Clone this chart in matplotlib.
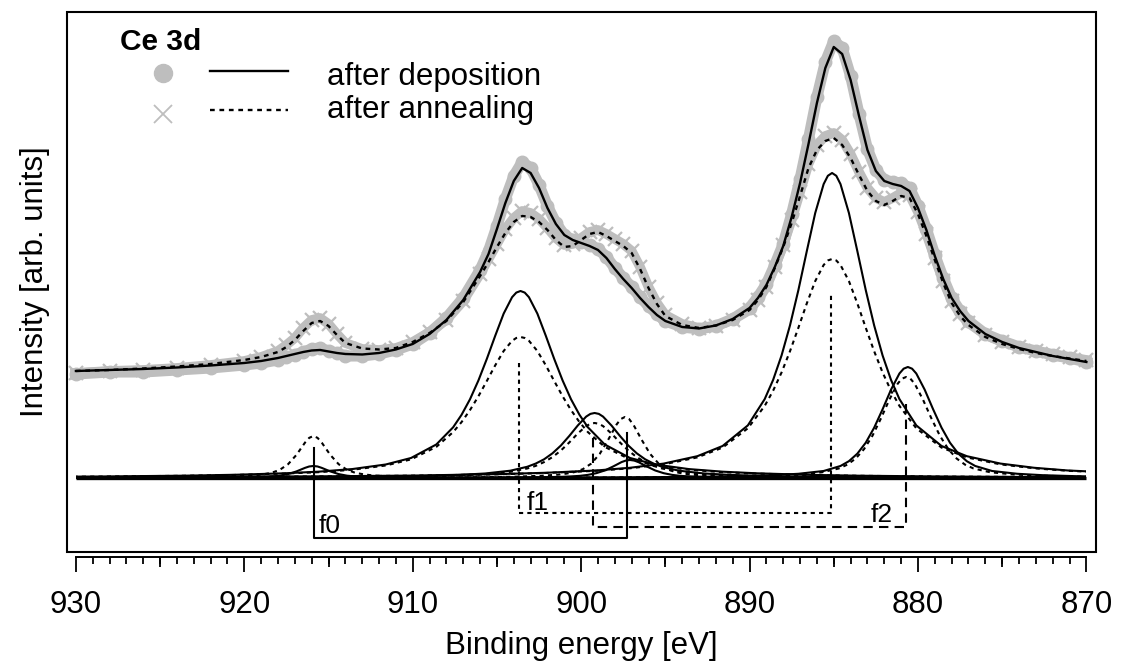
import numpy as np
import matplotlib
matplotlib.use("Agg")
import matplotlib.pyplot as plt
from matplotlib.patches import Rectangle
from matplotlib.ticker import MultipleLocator

plt.rcParams["font.family"] = ["Liberation Sans", "DejaVu Sans"]
plt.rcParams["font.size"] = 22

# ---- measured spectra and envelopes (binding energy in eV, intensity arb.) ----
energy = [930, 928, 926, 924, 922, 920, 919, 918, 917.5, 917,
          916.5, 916, 915.5, 915, 914.5, 914, 913, 912, 911, 910,
          909, 908, 907, 906, 905.5, 905, 904.5, 904, 903.5, 903,
          902.5, 902, 901.5, 901, 900.5, 900, 899.5, 899, 898.5, 898,
          897.5, 897, 896.5, 896, 895.5, 895, 894, 893, 892, 891,
          890, 889.5, 889, 888.5, 888, 887.5, 887, 886.5, 886, 885.5,
          885, 884.5, 884, 883.5, 883, 882.5, 882, 881.5, 881, 880.5,
          880, 879.5, 879, 878.5, 878, 877.5, 877, 876, 875, 874,
          873, 872, 871, 870]

dep_data = [104, 106, 106, 108, 110, 113, 115, 118, 121, 123,
            126, 129, 130, 127, 125, 122, 122, 124, 128, 134,
            145, 160, 180, 208, 227, 252, 279, 302, 316, 310,
            293, 272, 255, 243, 238, 236, 233, 229, 221, 210,
            200, 191, 181, 172, 164, 157, 151, 149, 152, 159,
            170, 181, 194, 213, 234, 264, 299, 339, 381, 416,
            437, 430, 402, 364, 329, 308, 298, 296, 295, 290,
            272, 249, 223, 200, 180, 167, 157, 144, 137, 131,
            127, 123, 120, 116]

ann_data = [105, 107, 108, 110, 113, 117, 121, 127, 133, 140,
            150, 158, 160, 154, 144, 135, 129, 128, 130, 136,
            146, 158, 177, 204, 219, 234, 249, 260, 267, 265,
            259, 250, 240, 233, 234, 240, 246, 248, 244, 239,
            234, 227, 211, 191, 175, 163, 154, 150, 152, 158,
            168, 178, 191, 211, 233, 258, 286, 314, 333, 342,
            345, 338, 324, 306, 290, 280, 276, 280, 285, 283,
            266, 244, 220, 197, 177, 164, 155, 143, 136, 131,
            127, 124, 121, 118]

dep_fit = [107, 108, 109, 110.5, 112.5, 115, 117, 120, 122, 124,
           126, 127.5, 128, 126.5, 125, 124, 123.5, 125, 128.5, 134,
           144, 158, 178, 206, 224, 249, 275, 297, 310, 305,
           290, 270, 254, 243, 238, 235, 232, 228, 220, 209,
           199, 190, 180, 171, 163, 157, 151, 149.5, 152.5, 159,
           170, 180, 193, 211, 232, 261, 295, 334, 375, 410,
           431, 424, 398, 362, 328, 307, 297, 294, 292, 287,
           270, 248, 222, 199, 180, 167, 157, 144, 136, 130,
           126, 122, 119, 116]

ann_fit = [107, 108, 109.5, 111.5, 114, 118, 121, 126, 131, 138,
           147, 155, 157, 152, 143, 135, 129.5, 128.5, 130, 136,
           145, 157, 176, 202, 216, 231, 245, 256, 262, 261,
           256, 248, 238, 231, 232, 238, 244, 246, 242, 237,
           232, 225, 209, 190, 174, 162, 153, 150, 152.5, 158,
           168, 178, 191, 210, 231, 255, 282, 310, 328, 337,
           340, 333, 320, 303, 287, 277, 273, 277, 282, 280,
           264, 242, 218, 195, 175, 162, 153, 141, 134, 129,
           125, 122, 119.5, 117]

# ---- fit components: centre (eV) + profile sampled at offsets from centre ----
offsets = [-45, -30, -25, -20, -17, -14, -12, -10, -8, -6.5, -5, -4, -3.5,
           -3, -2.5, -2, -1.5, -1, -0.5, -0.25, 0, 0.25, 0.5, 1, 1.5, 2,
           2.5, 3, 3.5, 4, 5, 6.5, 8, 10, 12, 14, 17, 20, 25, 30, 45]

dep_centres = [915.9, 903.6, 899.2, 897.1, 885.1, 880.6]
dep_peaks = [
    [0, 0, 0, 0, 0.03, 0.05, 0.07, 0.1, 0.16, 0.23, 0.4, 0.6, 0.75, 1.0, 1.5, 2.3, 3.9, 6.6, 10.1, 11.5, 12,
     11.5, 10.1, 6.6, 3.9, 2.3, 1.5, 1.0, 0.75, 0.6, 0.4, 0.23, 0.16, 0.1, 0.07, 0.05, 0.03, 0, 0, 0, 0],
    [0.47, 1.05, 1.5, 2.3, 3.2, 4.7, 6.3, 8.9, 13.5, 20.0, 33.5, 50.7, 63.2, 78.7, 97.5, 119.1, 142.3, 164.4, 180.8, 185.4, 187,
     185.4, 180.8, 164.4, 142.3, 119.1, 97.5, 78.7, 63.2, 50.7, 33.5, 20.0, 13.5, 8.9, 6.3, 4.7, 3.2, 2.3, 1.5, 1.05, 0.47],
    [0.1, 0.23, 0.33, 0.5, 0.71, 1.0, 1.4, 2.0, 3.1, 4.5, 7.3, 11.2, 14.4, 18.7, 24.7, 32.5, 42.1, 52.5, 61.4, 64.1, 65,
     64.1, 61.4, 52.5, 42.1, 32.5, 24.7, 18.7, 14.4, 11.2, 7.3, 4.5, 3.1, 2.0, 1.4, 1.0, 0.71, 0.5, 0.33, 0.23, 0.1],
    [0, 0, 0.03, 0.05, 0.08, 0.1, 0.15, 0.2, 0.32, 0.48, 0.8, 1.2, 1.6, 2.1, 3.1, 4.8, 7.5, 11.5, 15.9, 17.4, 18,
     17.4, 15.9, 11.5, 7.5, 4.8, 3.1, 2.1, 1.6, 1.2, 0.8, 0.48, 0.32, 0.2, 0.15, 0.1, 0.08, 0.05, 0.03, 0, 0],
    [0.75, 1.7, 2.4, 3.8, 5.2, 7.5, 10.2, 14.4, 21.8, 32.0, 52.6, 78.9, 98.1, 122.5, 152.5, 187.9, 226.9, 265.0, 293.9, 302.2, 305,
     302.2, 293.9, 265.0, 226.9, 187.9, 152.5, 122.5, 98.1, 78.9, 52.6, 32.0, 21.8, 14.4, 10.2, 7.5, 5.2, 3.8, 2.4, 1.7, 0.75],
    [0.09, 0.21, 0.3, 0.47, 0.65, 0.95, 1.3, 1.8, 2.8, 4.2, 7.0, 12.0, 16.8, 24.3, 35.3, 50.3, 68.7, 88.3, 104.5, 109.3, 111,
     109.3, 104.5, 88.3, 68.7, 50.3, 35.3, 24.3, 16.8, 12.0, 7.0, 4.2, 2.8, 1.8, 1.3, 0.95, 0.65, 0.47, 0.3, 0.21, 0.09],
]

ann_centres = [915.9, 903.6, 899.2, 897.4, 885.1, 880.7]
ann_peaks = [
    [0.02, 0.04, 0.06, 0.09, 0.12, 0.18, 0.24, 0.35, 0.55, 0.82, 1.4, 2.1, 2.6, 3.6, 5.1, 8.1, 13.8, 23.2, 35.3, 40.1, 42,
     40.1, 35.3, 23.2, 13.8, 8.1, 5.1, 3.6, 2.6, 2.1, 1.4, 0.82, 0.55, 0.35, 0.24, 0.18, 0.12, 0.09, 0.06, 0.04, 0.02],
    [0.44, 0.98, 1.4, 2.2, 3.0, 4.4, 5.8, 8.2, 12.5, 18.6, 31.1, 45.9, 55.9, 67.9, 81.7, 97.0, 112.7, 127.0, 137.2, 140.0, 141,
     140.0, 137.2, 127.0, 112.7, 97.0, 81.7, 67.9, 55.9, 45.9, 31.1, 18.6, 12.5, 8.2, 5.8, 4.4, 3.0, 2.2, 1.4, 0.98, 0.44],
    [0.09, 0.19, 0.28, 0.43, 0.6, 0.88, 1.2, 1.7, 2.6, 3.8, 6.2, 9.5, 12.1, 15.9, 20.9, 27.5, 35.6, 44.5, 51.9, 54.2, 55,
     54.2, 51.9, 44.5, 35.6, 27.5, 20.9, 15.9, 12.1, 9.5, 6.2, 3.8, 2.6, 1.7, 1.2, 0.88, 0.6, 0.43, 0.28, 0.19, 0.09],
    [0.03, 0.06, 0.09, 0.14, 0.2, 0.3, 0.39, 0.6, 0.87, 1.3, 2.2, 3.3, 4.3, 5.9, 8.8, 14.4, 24.0, 38.0, 53.4, 58.9, 61,
     58.9, 53.4, 38.0, 24.0, 14.4, 8.8, 5.9, 4.3, 3.3, 2.2, 1.3, 0.87, 0.6, 0.39, 0.3, 0.2, 0.14, 0.09, 0.06, 0.03],
    [0.73, 1.6, 2.3, 3.6, 5.0, 7.2, 9.7, 13.6, 20.6, 30.4, 49.7, 72.1, 87.3, 105.5, 126.7, 150.2, 174.6, 196.9, 213.0, 217.5, 219,
     217.5, 213.0, 196.9, 174.6, 150.2, 126.7, 105.5, 87.3, 72.1, 49.7, 30.4, 20.6, 13.6, 9.7, 7.2, 5.0, 3.6, 2.3, 1.6, 0.73],
    [0.08, 0.17, 0.25, 0.38, 0.53, 0.78, 1.05, 1.5, 2.3, 3.4, 5.7, 9.5, 13.3, 19.4, 28.9, 42.3, 59.5, 78.3, 94.4, 99.3, 101,
     99.3, 94.4, 78.3, 59.5, 42.3, 28.9, 19.4, 13.3, 9.5, 5.7, 3.4, 2.3, 1.5, 1.05, 0.78, 0.53, 0.38, 0.25, 0.17, 0.08],
]

# ---- spin-orbit pair brackets ----
bracket_names = ["f0", "f1", "f2"]
bracket_left = [915.85, 903.7, 899.3]
bracket_right = [897.25, 885.15, 880.7]
bracket_top_left = [30, 115, 40]
bracket_top_right = [45, 186, 78]
bracket_floor = [-60, -35, -49]
bracket_label_x = [915.6, 903.25, 882.8]
bracket_label_y = [-55, -32, -44]
bracket_styles = ["-", (0, (2, 2)), (0, (4.5, 3))]

GREY = "#bebebe"
DOTTED = (0, (2, 2))


def main():
    fig = plt.figure(figsize=(11.22, 6.66), dpi=100)
    ax = fig.add_axes([0.0597, 0.1712, 0.9171, 0.8108])
    ax.set_xlim(930.53, 869.43)
    ax.set_ylim(-74, 466)

    # measured data (grey band + markers)
    ax.plot(energy, dep_data, color=GREY, lw=8, solid_joinstyle="round", zorder=1)
    ax.plot(energy, dep_data, "o", color=GREY, ms=9, zorder=1)
    ax.plot(energy, ann_data, color=GREY, lw=7, solid_joinstyle="round", zorder=1)
    ax.plot(energy, ann_data, "x", color=GREY, ms=10, mew=1.6, zorder=1)

    # fit components, limited to the measured range
    clip = Rectangle((min(energy), -100), max(energy) - min(energy), 700,
                     transform=ax.transData)
    for centres, peaks, ls in [(dep_centres, dep_peaks, "-"),
                               (ann_centres, ann_peaks, DOTTED)]:
        for c, vals in zip(centres, peaks):
            line, = ax.plot(c + np.array(offsets), vals, color="k", ls=ls,
                            lw=1.5, zorder=3)
            line.set_clip_path(clip)
    ax.hlines(0, min(energy), max(energy), color="k", lw=2.4, zorder=3)

    # fitted envelopes
    ax.plot(energy, dep_fit, color="k", lw=1.7, zorder=4)
    ax.plot(energy, ann_fit, color="k", ls=DOTTED, lw=1.7, zorder=4)

    # brackets
    for i, name in enumerate(bracket_names):
        xs = [bracket_left[i], bracket_left[i], bracket_right[i], bracket_right[i]]
        ys = [bracket_top_left[i], bracket_floor[i], bracket_floor[i], bracket_top_right[i]]
        ax.plot(xs, ys, color="k", ls=bracket_styles[i], lw=1.5, zorder=3)
        ax.text(bracket_label_x[i], bracket_label_y[i], name, fontsize=19,
                ha="left", va="baseline")

    # hand-made legend
    ax.text(0.0515, 0.9296, "Ce 3d", transform=ax.transAxes, fontweight="bold",
            fontsize=21.5, va="baseline")
    ax.plot([0.0933], [0.887], "o", color=GREY, ms=13, transform=ax.transAxes)
    ax.plot([0.139, 0.2148], [0.8907, 0.8907], color="k", lw=1.7,
            transform=ax.transAxes)
    ax.text(0.2527, 0.8648, "after deposition", transform=ax.transAxes,
            va="baseline", fontsize=22.5)
    ax.plot([0.0933], [0.8111], "x", color=GREY, ms=13, mew=1.3,
            transform=ax.transAxes)
    ax.plot([0.139, 0.2148], [0.8185, 0.8185], color="k", ls=DOTTED, lw=1.7,
            transform=ax.transAxes)
    ax.text(0.2527, 0.8031, "after annealing", transform=ax.transAxes,
            va="baseline", fontsize=22.5)

    # axes: closed box + detached tick axis below it
    for s in ["top", "left", "right"]:
        ax.spines[s].set_visible(False)
    ax.spines["bottom"].set_position(("outward", 3.6))
    ax.spines["bottom"].set_bounds(870, 930)
    ax.spines["bottom"].set_linewidth(1.4)
    ax.add_patch(Rectangle((0, 0), 1, 1, transform=ax.transAxes, fill=False,
                           lw=1.5, clip_on=False, zorder=6))
    ax.set_xticks(np.arange(870, 931, 10))
    ax.xaxis.set_minor_locator(MultipleLocator(1))
    ax.tick_params(axis="x", which="major", length=10.5, width=1.3, pad=13,
                   labelsize=22.5)
    ax.tick_params(axis="x", which="minor", length=5, width=1.3)
    ax.set_yticks([])

    ax5 = ax.twiny()
    ax5.set_xlim(ax.get_xlim())
    ax5.xaxis.set_ticks_position("bottom")
    ax5.spines["bottom"].set_position(("outward", 3.6))
    for s in ax5.spines.values():
        s.set_visible(False)
    ax5.set_xticks(np.arange(875, 930, 10))
    ax5.tick_params(axis="x", length=7.5, width=1.3, labelbottom=False,
                    labeltop=False)

    ax.set_xlabel("Binding energy [eV]", fontsize=22.5, labelpad=8)
    ax.set_ylabel("Intensity [arb. units]", fontsize=22.5, labelpad=12)

    fig.savefig("out.png", dpi=100)


if __name__ == "__main__":
    main()
